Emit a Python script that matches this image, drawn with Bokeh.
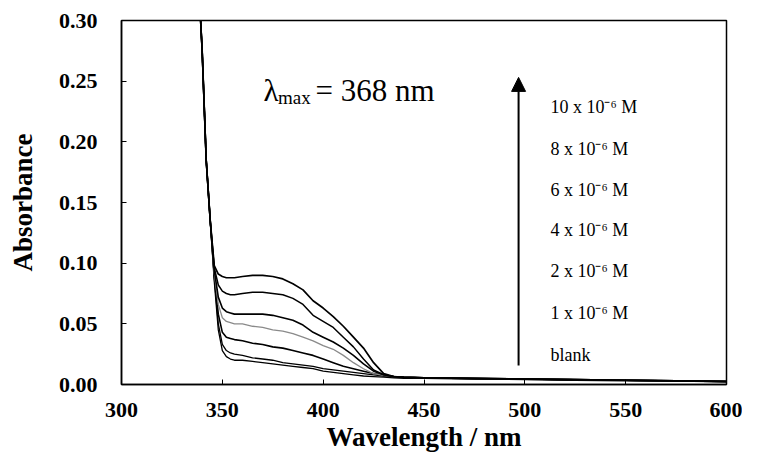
import math
from bokeh.plotting import figure
from bokeh.models import Label, Arrow, NormalHead, FixedTicker, NumeralTickFormatter, Range1d
from bokeh.embed import file_html
from bokeh.resources import INLINE

# Wavelength grid (nm)
wavelength = [338, 340, 342, 344, 346, 348, 350, 352, 354, 356, 360, 365, 370, 375, 380,
              385, 390, 395, 400, 405, 410, 415, 420, 425, 430, 435, 440, 450, 475, 500,
              525, 550, 575, 600]

# Absorbance series
conc_10 = [0.34, 0.275, 0.185, 0.135, 0.098, 0.091, 0.089, 0.088, 0.088, 0.088, 0.089, 0.090,
           0.090, 0.089, 0.087, 0.083, 0.078, 0.069, 0.063, 0.056, 0.048, 0.039, 0.030, 0.018,
           0.009, 0.0065, 0.006, 0.0055, 0.005, 0.0045, 0.004, 0.0035, 0.003, 0.0025]
conc_8 = [0.34, 0.275, 0.185, 0.135, 0.096, 0.082, 0.077, 0.075, 0.074, 0.074, 0.075, 0.076,
          0.076, 0.075, 0.074, 0.071, 0.066, 0.057, 0.052, 0.047, 0.039, 0.031, 0.021, 0.012,
          0.008, 0.0065, 0.006, 0.0055, 0.005, 0.0045, 0.004, 0.0035, 0.003, 0.0025]
conc_6 = [0.34, 0.275, 0.185, 0.135, 0.094, 0.072, 0.063, 0.060, 0.059, 0.058, 0.058, 0.058,
          0.058, 0.057, 0.055, 0.053, 0.049, 0.043, 0.039, 0.035, 0.030, 0.024, 0.017, 0.011,
          0.008, 0.0065, 0.006, 0.0055, 0.005, 0.0045, 0.004, 0.0035, 0.003, 0.0025]
conc_4 = [0.34, 0.275, 0.185, 0.135, 0.092, 0.066, 0.055, 0.052, 0.051, 0.050, 0.050, 0.048,
          0.047, 0.045, 0.044, 0.042, 0.039, 0.036, 0.032, 0.029, 0.024, 0.018, 0.013, 0.009,
          0.0075, 0.0065, 0.006, 0.0055, 0.005, 0.0045, 0.004, 0.0035, 0.003, 0.0025]
conc_2 = [0.34, 0.275, 0.185, 0.135, 0.090, 0.058, 0.043, 0.039, 0.038, 0.037, 0.036, 0.034,
          0.033, 0.031, 0.030, 0.028, 0.026, 0.024, 0.021, 0.018, 0.015, 0.013, 0.011, 0.009,
          0.0075, 0.0065, 0.006, 0.0055, 0.005, 0.0045, 0.004, 0.0035, 0.003, 0.0025]
conc_1 = [0.34, 0.275, 0.185, 0.135, 0.088, 0.050, 0.033, 0.028, 0.026, 0.025, 0.024, 0.022,
          0.021, 0.020, 0.018, 0.017, 0.016, 0.015, 0.013, 0.012, 0.011, 0.010, 0.009, 0.008,
          0.007, 0.0065, 0.006, 0.0055, 0.005, 0.0045, 0.004, 0.0035, 0.003, 0.0025]
blank = [0.34, 0.275, 0.185, 0.135, 0.085, 0.045, 0.028, 0.023, 0.021, 0.020, 0.020, 0.019,
         0.018, 0.017, 0.016, 0.015, 0.014, 0.013, 0.011, 0.010, 0.009, 0.008, 0.007, 0.0065,
         0.006, 0.0055, 0.005, 0.005, 0.0045, 0.004, 0.0035, 0.003, 0.0028, 0.0022]

x_ticks = [300, 350, 400, 450, 500, 550, 600]
y_ticks = [0.00, 0.05, 0.10, 0.15, 0.20, 0.25, 0.30]

legend_labels = ["10 x 10\u207b\u2076 M", "8 x 10\u207b\u2076 M", "6 x 10\u207b\u2076 M",
                 "4 x 10\u207b\u2076 M", "2 x 10\u207b\u2076 M", "1 x 10\u207b\u2076 M", "blank"]
legend_baselines = [0.2286, 0.1943, 0.1605, 0.1270, 0.0934, 0.0591, 0.0247]

SERIF = "Liberation Serif"

p = figure(width=742, height=458, output_backend="svg", toolbar_location=None,
           x_range=Range1d(300, 600), y_range=Range1d(0, 0.30),
           min_border_left=121, min_border_right=16, min_border_top=20, min_border_bottom=74)
p.background_fill_color = "white"
p.border_fill_color = "white"
p.outline_line_color = "black"
p.outline_line_width = 1.5
p.xgrid.visible = False
p.ygrid.visible = False

for ax in (p.xaxis[0], p.yaxis[0]):
    ax.major_label_text_font = SERIF
    ax.major_label_text_font_style = "bold"
    ax.major_label_text_font_size = "22px"
    ax.major_label_text_color = "black"
    ax.major_tick_in = 5
    ax.major_tick_out = 0
    ax.minor_tick_line_color = None
    ax.axis_line_color = "black"
    ax.axis_line_width = 1.5
    ax.major_tick_line_color = "black"
    ax.axis_label_text_font = SERIF
    ax.axis_label_text_font_style = "bold"
    ax.axis_label_text_font_size = "27px"
    ax.axis_label_text_color = "black"

p.xaxis.ticker = FixedTicker(ticks=x_ticks)
p.yaxis.ticker = FixedTicker(ticks=y_ticks)
p.yaxis.formatter = NumeralTickFormatter(format="0.00")
p.xaxis.major_label_standoff = 18
p.yaxis.major_label_standoff = 24
p.xaxis.axis_label = "Wavelength / nm"
p.yaxis.axis_label = "Absorbance"
p.xaxis.axis_label_standoff = 2
p.yaxis.axis_label_standoff = 18

series = [(blank, "black", 1.3), (conc_1, "black", 1.3), (conc_2, "black", 1.6),
          (conc_4, "#8a8a8a", 1.3), (conc_6, "black", 1.6), (conc_8, "black", 1.5),
          (conc_10, "black", 1.7)]
for ys, col, lw in series:
    p.line(wavelength, ys, line_color=col, line_width=lw)

# lambda max annotation
p.add_layout(Label(x=370.4, y=0.2424, text="\u03bb", text_font=SERIF, text_font_size="31px",
                   text_baseline="alphabetic", text_color="black"))
p.add_layout(Label(x=377.6, y=0.2362, text="max", text_font=SERIF, text_font_size="19px",
                   text_baseline="alphabetic", text_color="black"))
p.add_layout(Label(x=396.2, y=0.2424, text="= 368 nm", text_font=SERIF, text_font_size="31px",
                   text_baseline="alphabetic", text_color="black"))

# arrow
p.add_layout(Arrow(end=NormalHead(size=14, fill_color="black", line_color="black"),
                   x_start=496.9, y_start=0.0157, x_end=496.9, y_end=0.2531,
                   line_color="black", line_width=2))

for lab, yb in zip(legend_labels, legend_baselines):
    p.add_layout(Label(x=512.7, y=yb, text=lab, text_font=SERIF, text_font_size="18px",
                       text_baseline="alphabetic", text_color="black"))

open("out.html", "w").write(file_html(p, INLINE))
